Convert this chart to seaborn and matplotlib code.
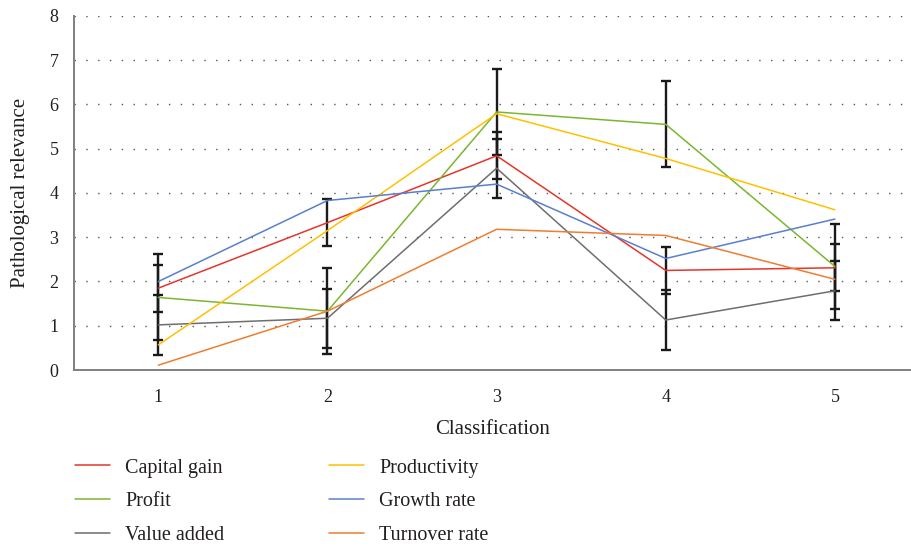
import matplotlib
matplotlib.use("Agg")
import matplotlib.pyplot as plt
import numpy as np
import pandas as pd
import seaborn as sns

# values
classes = [1, 2, 3, 4, 5]
series_names = ["Capital gain", "Profit", "Value added",
                "Productivity", "Growth rate", "Turnover rate"]
capital_gain = [1.85, 3.33, 4.84, 2.25, 2.31]
profit = [1.64, 1.33, 5.83, 5.55, 2.34]
value_added = [1.02, 1.17, 4.56, 1.13, 1.79]
productivity = [0.57, 3.15, 5.79, 4.78, 3.62]
growth_rate = [2.00, 3.83, 4.20, 2.52, 3.41]
turnover_rate = [0.11, 1.33, 3.18, 3.04, 2.05]

# error bars only shown for three of the series
capital_gain_err = [0.53, 0.53, 0.53, 0.53, 0.53]
profit_err = [0.97, 0.97, 0.97, 0.97, 0.97]
value_added_err = [0.67, 0.67, 0.67, 0.67, 0.67]

colors = ["#e5352b", "#7ab72d", "#6e6e6e", "#ffc000", "#5a7fcf", "#ef7d31"]

values = [capital_gain, profit, value_added, productivity, growth_rate, turnover_rate]
df = pd.DataFrame({
    "Classification": classes * len(series_names),
    "value": [v for vals in values for v in vals],
    "series": [name for name in series_names for _ in classes],
})

sns.set_theme(style="white")
plt.rcParams["font.family"] = ["Liberation Serif", "DejaVu Serif"]

fig = plt.figure(figsize=(9.11, 5.49), dpi=100)
ax = fig.add_axes([0.081, 0.326, 0.919, 0.645])

# error bars first so the coloured lines sit on top
for vals, err in [(capital_gain, capital_gain_err),
                  (profit, profit_err),
                  (value_added, value_added_err)]:
    ax.errorbar(classes, vals, yerr=err, fmt="none", ecolor="#1a1a1a",
                elinewidth=1.7, capsize=3.8, capthick=1.7, zorder=2)

sns.lineplot(data=df, x="Classification", y="value", hue="series",
             hue_order=series_names, palette=colors, linewidth=1.1,
             ax=ax, legend=True, zorder=3)

ax.set_xlim(0.5, 5.45)
ax.set_ylim(0, 8)
ax.set_xticks(classes)
ax.set_yticks(range(0, 9))
ax.yaxis.grid(True, linestyle=(0, (1, 7.5)), color="#555555", linewidth=1.0)
ax.set_axisbelow(True)

for side in ["top", "right"]:
    ax.spines[side].set_visible(False)
for side in ["left", "bottom"]:
    ax.spines[side].set_color("#808080")
    ax.spines[side].set_linewidth(1.4)

ax.tick_params(axis="both", direction="out", length=5, width=1.0,
               color="#808080", labelsize=13, labelcolor="#231f20")
ax.tick_params(axis="y", pad=6)
ax.tick_params(axis="x", pad=9)
ax.set_xlabel("Classification", fontsize=15, color="#231f20", labelpad=10)
ax.set_ylabel("Pathological relevance", fontsize=15, color="#231f20", labelpad=14)

handles, labels = ax.get_legend_handles_labels()
ax.get_legend().remove()
fig.legend(handles, labels, loc="upper left", bbox_to_anchor=(0.082, 0.165),
           ncol=2, frameon=False, fontsize=14.5, handlelength=1.75,
           handletextpad=0.75, columnspacing=5.2, labelspacing=0.72,
           borderpad=0, borderaxespad=0)
for text in fig.legends[0].get_texts():
    text.set_color("#231f20")

fig.savefig("out.png", dpi=100)
